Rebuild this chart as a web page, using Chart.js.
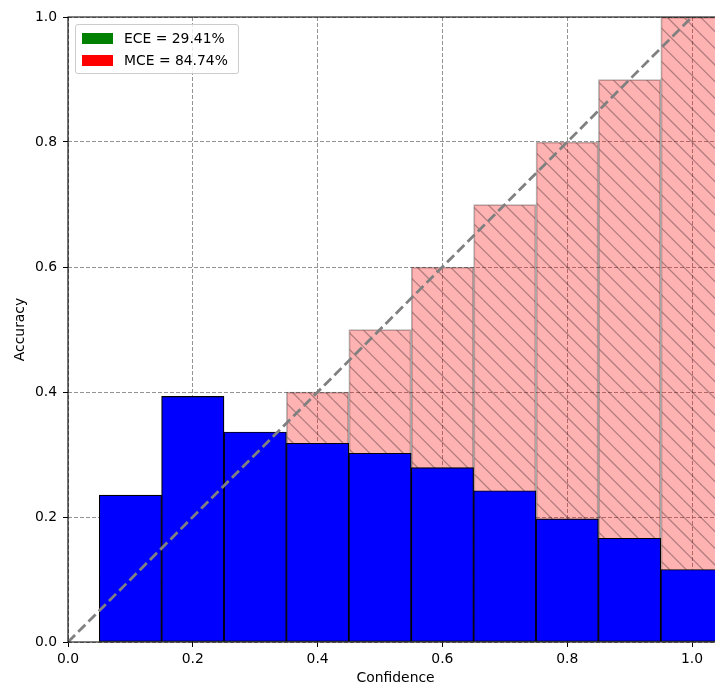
<!DOCTYPE html>
<html>
<head>
<meta charset="utf-8">
<script src="https://cdn.jsdelivr.net/npm/chart.js@4.4.1/dist/chart.umd.min.js"></script>
<style>
  html, body { margin: 0; padding: 0; background: #fff; overflow: hidden; }
  #wrap { position: relative; width: 730px; height: 689px; }
  #legend {
    position: absolute; left: 75px; top: 24px; width: 162px; height: 48px;
    border: 1px solid #cccccc; border-radius: 3px; background: rgba(255,255,255,0.8);
    font-family: "DejaVu Sans", sans-serif; font-size: 13.9px; color: #000;
  }
  .item { position: absolute; left: 0; height: 22px; width: 160px; }
  .swatch { position: absolute; left: 6px; top: 5px; width: 31px; height: 11px; }
  .label { position: absolute; left: 48px; top: 2px; white-space: nowrap; line-height: 17px; }
</style>
</head>
<body>
<div id="wrap">
  <canvas id="chart" width="730" height="689"></canvas>
  <div id="legend"></div>
</div>
<script>
// bin centres (confidence) and measured accuracy per bin
const binCenters = [0.1, 0.2, 0.3, 0.4, 0.5, 0.6, 0.7, 0.8, 0.9, 1.0];
const binAccuracy = [0.235, 0.393, 0.336, 0.318, 0.302, 0.279, 0.242, 0.197, 0.166, 0.116];
const identityX = [0, 1];
const identityY = [0, 1];
const legendLabels = ["ECE = 29.41%", "MCE = 84.74%"];
const legendColors = ["#008000", "#ff0000"];

// legend (upper left, inside axes)
const legendEl = document.getElementById("legend");
legendLabels.forEach((txt, i) => {
  const row = document.createElement("div");
  row.className = "item";
  row.style.top = (3 + i * 22) + "px";
  row.innerHTML = '<div class="swatch" style="background:' + legendColors[i] + '"></div>' +
                  '<div class="label">' + txt + '</div>';
  legendEl.appendChild(row);
});

// red bars with "\\" hatching
function hatchPattern() {
  const s = 100, n = 6;
  const c = document.createElement("canvas");
  c.width = s; c.height = s;
  const g = c.getContext("2d");
  g.fillStyle = "rgba(255,0,0,0.3)";
  g.fillRect(0, 0, s, s);
  g.strokeStyle = "rgba(0,0,0,0.3)";
  g.lineWidth = 1.3;
  for (let k = -n; k <= n; k++) {
    const o = k * s / n;
    g.beginPath();
    g.moveTo(o, 0);
    g.lineTo(o + s, s);
    g.stroke();
  }
  return g.createPattern(c, "repeat");
}

// spines drawn on top (left, bottom, top)
const spines = {
  id: "spines",
  afterDatasetsDraw(chart) {
    const { ctx, chartArea: a } = chart;
    ctx.save();
    ctx.strokeStyle = "#000";
    ctx.lineWidth = 1.1;
    ctx.beginPath();
    ctx.moveTo(a.right + 2, a.top);
    ctx.lineTo(a.left, a.top);
    ctx.lineTo(a.left, a.bottom);
    ctx.lineTo(a.right + 2, a.bottom);
    ctx.stroke();
    ctx.restore();
  }
};

Chart.defaults.font.family = "'DejaVu Sans', sans-serif";
Chart.defaults.font.size = 13.9;
Chart.defaults.color = "#000";

const gridStyle = {
  color: "rgba(128,128,128,0.85)",
  lineWidth: 1,
  drawTicks: true,
  tickLength: 5,
  tickColor: "#000",
  tickBorderDash: [],
  tickWidth: 1
};
// dash of the grid lines lives in border.dash in Chart.js v4
const borderStyle = { display: false, dash: [4, 2] };

new Chart(document.getElementById("chart"), {
  type: "bar",
  data: {
    datasets: [
      {
        type: "line",
        data: identityX.map((x, i) => ({ x: x, y: identityY[i] })),
        borderColor: "#808080",
        borderWidth: 2.8,
        borderDash: [10, 4.5],
        pointRadius: 0,
        fill: false,
        order: 1
      },
      {
        data: binCenters.map((c, i) => ({ x: c, y: binAccuracy[i] })),
        backgroundColor: "#0000ff",
        borderColor: "#000",
        borderWidth: 1.2,
        borderSkipped: false,
        grouped: false,
        barPercentage: 1,
        categoryPercentage: 1,
        order: 2
      },
      {
        data: binCenters.map(c => ({ x: c, y: c })),
        backgroundColor: hatchPattern(),
        borderColor: "rgba(0,0,0,0.3)",
        borderWidth: 1.2,
        borderSkipped: false,
        grouped: false,
        barPercentage: 1,
        categoryPercentage: 1,
        order: 3
      }
    ]
  },
  options: {
    responsive: false,
    devicePixelRatio: 1,
    animation: false,
    layout: { padding: { left: 0, top: 17, right: 6.8, bottom: 0 } },
    plugins: {
      legend: { display: false },
      tooltip: { enabled: false }
    },
    scales: {
      x: {
        type: "linear",
        min: 0,
        max: 1.05,
        offset: false,
        grid: { ...gridStyle, offset: false },
        border: borderStyle,
        ticks: {
          stepSize: 0.2,
          includeBounds: false,
          padding: 4,
          maxRotation: 0,
          callback: v => v.toFixed(1)
        },
        title: { display: true, text: "Confidence", padding: { top: 2, bottom: 2 } },
        afterFit(scale) { scale.height = 47; }
      },
      y: {
        type: "linear",
        min: 0,
        max: 1,
        grid: gridStyle,
        border: borderStyle,
        ticks: {
          stepSize: 0.2,
          padding: 6,
          callback: v => v.toFixed(1)
        },
        title: { display: true, text: "Accuracy", padding: { top: 12, bottom: 2 } },
        afterFit(scale) { scale.width = 68; }
      }
    }
  },
  plugins: [spines]
});
</script>
</body>
</html>
